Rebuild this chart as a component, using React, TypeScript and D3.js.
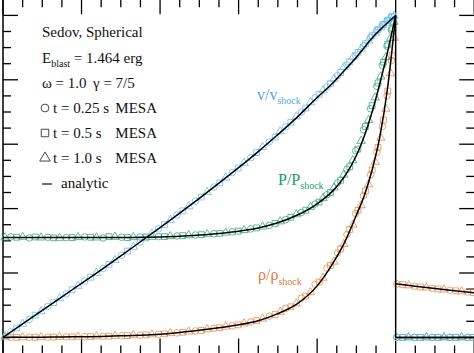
import React from "react";
import * as d3 from "d3";

// ---------- data ----------
// analytic Sedov profiles inside the shock (r / r_shock)
const anX = [0, 0.05, 0.1, 0.15, 0.2, 0.25, 0.3, 0.35, 0.4, 0.45, 0.5, 0.55, 0.6, 0.65, 0.7, 0.75, 0.8, 0.84, 0.87, 0.9, 0.92, 0.94, 0.96, 0.98, 1.0];
const anV = [0, 0.042, 0.084, 0.126, 0.168, 0.21, 0.253, 0.297, 0.341, 0.386, 0.432, 0.479, 0.527, 0.577, 0.63, 0.685, 0.745, 0.79, 0.83, 0.87, 0.9, 0.93, 0.955, 0.978, 1.0];
const anP = [0.31, 0.31, 0.31, 0.31, 0.31, 0.31, 0.31, 0.311, 0.312, 0.314, 0.318, 0.323, 0.33, 0.34, 0.356, 0.38, 0.415, 0.455, 0.5, 0.565, 0.625, 0.7, 0.79, 0.89, 1.0];
const anRho = [0, 0.0002, 0.0006, 0.0012, 0.002, 0.003, 0.005, 0.007, 0.01, 0.015, 0.022, 0.03, 0.039, 0.052, 0.074, 0.105, 0.16, 0.23, 0.295, 0.38, 0.44, 0.52, 0.625, 0.78, 1.0];
// analytic profile outside the shock
const postX = [1.0, 1.05, 1.1, 1.15, 1.2];
const postRho = [0.1667, 0.1587, 0.1515, 0.1449, 0.1389];
const postV = [0, 0, 0, 0, 0];
const postP = [0, 0, 0, 0, 0];

// MESA t = 0.25 s (circles)
const cX = [0.02, 0.067, 0.114, 0.161, 0.208, 0.255, 0.302, 0.349, 0.396, 0.443, 0.49, 0.537, 0.584, 0.631, 0.678, 0.72, 0.76, 0.795, 0.825, 0.852, 0.876, 0.898, 0.918, 0.936, 0.952, 0.966, 0.978, 0.989, 1.003, 1.048, 1.093, 1.138, 1.183];
const cV = [0.017, 0.056, 0.096, 0.135, 0.175, 0.214, 0.255, 0.296, 0.337, 0.38, 0.423, 0.467, 0.512, 0.558, 0.607, 0.654, 0.7, 0.744, 0.778, 0.813, 0.846, 0.875, 0.905, 0.932, 0.953, 0.97, 0.984, 0.996, 0, 0, 0, 0, 0];
const cP = [0.312, 0.309, 0.311, 0.31, 0.312, 0.309, 0.311, 0.312, 0.313, 0.315, 0.318, 0.322, 0.328, 0.337, 0.348, 0.366, 0.388, 0.414, 0.443, 0.48, 0.522, 0.58, 0.645, 0.71, 0.78, 0.845, 0.905, 0.955, 0, 0, 0, 0, 0];
const cRho = [0.0001, 0.0003, 0.0008, 0.0014, 0.0022, 0.0032, 0.005, 0.007, 0.01, 0.014, 0.02, 0.028, 0.036, 0.048, 0.066, 0.09, 0.122, 0.165, 0.215, 0.262, 0.32, 0.385, 0.44, 0.505, 0.575, 0.655, 0.75, 0.86, 0.166, 0.159, 0.1525, 0.1465, 0.141];

// MESA t = 0.5 s (squares)
const sX = [0.035, 0.082, 0.129, 0.176, 0.223, 0.27, 0.317, 0.364, 0.411, 0.458, 0.505, 0.552, 0.599, 0.646, 0.693, 0.733, 0.771, 0.805, 0.834, 0.86, 0.883, 0.904, 0.923, 0.94, 0.955, 0.969, 0.98, 0.991, 1.018, 1.063, 1.108, 1.153, 1.198];
const sV = [0.029, 0.069, 0.108, 0.148, 0.187, 0.227, 0.268, 0.309, 0.35, 0.393, 0.436, 0.48, 0.526, 0.574, 0.622, 0.668, 0.712, 0.755, 0.788, 0.823, 0.856, 0.885, 0.912, 0.937, 0.956, 0.972, 0.985, 0.996, 0, 0, 0, 0, 0];
const sP = [0.311, 0.312, 0.309, 0.31, 0.311, 0.313, 0.31, 0.312, 0.313, 0.316, 0.319, 0.323, 0.33, 0.34, 0.354, 0.373, 0.395, 0.42, 0.45, 0.488, 0.53, 0.585, 0.655, 0.72, 0.79, 0.855, 0.91, 0.96, 0, 0, 0, 0, 0];
const sRho = [0.0001, 0.0004, 0.001, 0.0016, 0.0025, 0.0037, 0.0056, 0.0078, 0.011, 0.016, 0.022, 0.03, 0.039, 0.052, 0.071, 0.095, 0.128, 0.172, 0.224, 0.275, 0.335, 0.395, 0.455, 0.52, 0.59, 0.675, 0.765, 0.875, 0.1637, 0.1568, 0.1504, 0.1446, 0.139];

// MESA t = 1.0 s (triangles)
const tX = [0.005, 0.05, 0.097, 0.144, 0.191, 0.238, 0.285, 0.332, 0.379, 0.426, 0.473, 0.52, 0.567, 0.614, 0.661, 0.706, 0.747, 0.783, 0.815, 0.843, 0.868, 0.891, 0.912, 0.931, 0.948, 0.962, 0.975, 0.987, 0.996, 1.033, 1.078, 1.123, 1.168];
const tV = [0.004, 0.042, 0.081, 0.121, 0.16, 0.2, 0.24, 0.281, 0.322, 0.364, 0.407, 0.451, 0.496, 0.542, 0.591, 0.64, 0.686, 0.73, 0.767, 0.803, 0.84, 0.87, 0.896, 0.922, 0.946, 0.963, 0.977, 0.99, 0.999, 0, 0, 0, 0];
const tP = [0.31, 0.312, 0.31, 0.309, 0.311, 0.31, 0.312, 0.311, 0.312, 0.314, 0.317, 0.32, 0.325, 0.333, 0.344, 0.36, 0.382, 0.405, 0.432, 0.465, 0.505, 0.55, 0.61, 0.675, 0.745, 0.81, 0.87, 0.93, 0.98, 0, 0, 0, 0];
const tRho = [0, 0.0002, 0.0006, 0.0012, 0.002, 0.003, 0.0045, 0.0065, 0.009, 0.013, 0.018, 0.025, 0.033, 0.043, 0.058, 0.079, 0.105, 0.14, 0.185, 0.235, 0.29, 0.35, 0.41, 0.475, 0.545, 0.62, 0.71, 0.82, 0.93, 0.1614, 0.1546, 0.1484, 0.1427];

const legendTitle = "Sedov, Spherical";
const legendOmega = "ω = 1.0";
const legendGamma = "γ = 7/5";
const legendRuns = ["t = 0.25 s", "t = 0.5 s", "t = 1.0 s"];

// ---------- styling ----------
const W = 474;
const H = 353;
const colV = "#6cbbe8";
const colP = "#33a982";
const colRho = "#ea8c4a";
const txtV = "#4faadf";
const txtP = "#119a70";
const txtRho = "#e07a36";
const serif = "'Liberation Serif', 'Times New Roman', serif";

export default function App() {
  const x = d3.scaleLinear().domain([0, 1.2]).range([3, 474.2]);
  const y = d3.scaleLinear().domain([-0.05, 1.05]).range([353.5, -0.7]);

  const inner = d3
    .line<[number, number]>()
    .x((d) => x(d[0]))
    .y((d) => y(d[1]))
    .curve(d3.curveMonotoneX);
  const straight = d3
    .line<[number, number]>()
    .x((d) => x(d[0]))
    .y((d) => y(d[1]));

  const zip = (a: number[], b: number[]) => a.map((v, i) => [v, b[i]] as [number, number]);

  const xTicks = d3.range(0, 1.2001, 0.05);
  const yTicks = d3.range(0, 1.0001, 0.05);

  const shapes = [
    { xs: cX, v: cV, p: cP, r: cRho, sym: d3.symbolCircle, size: 34 },
    { xs: sX, v: sV, p: sP, r: sRho, sym: d3.symbolSquare, size: 34 },
    { xs: tX, v: tV, p: tP, r: tRho, sym: d3.symbolTriangle, size: 30 },
  ];

  const markers: JSX.Element[] = [];
  shapes.forEach((s, si) => {
    const path = d3.symbol().type(s.sym).size(s.size)() as string;
    const groups: [number[], string][] = [
      [s.r, colRho],
      [s.p, colP],
      [s.v, colV],
    ];
    groups.forEach(([vals, col], gi) => {
      s.xs.forEach((xv, i) => {
        markers.push(
          <path
            key={`m${si}-${gi}-${i}`}
            d={path}
            transform={`translate(${x(xv)},${y(vals[i])})`}
            fill="none"
            stroke={col}
            strokeWidth={1}
            strokeOpacity={0.8}
          />
        );
      });
    });
  });

  const legendSyms = [d3.symbolCircle, d3.symbolSquare, d3.symbolTriangle];
  const legendSizes = [48, 56, 48];

  return (
    <svg
      width={W}
      height={H}
      style={{ position: "fixed", left: 0, top: 0, background: "#fff" }}
      fontFamily={serif}
    >
      <rect x={0} y={0} width={W} height={H} fill="#fff" />
      {/* ticks */}
      {xTicks.map((t, i) => {
        const major = i % 4 === 0;
        const len = major ? 15 : 8;
        return (
          <g key={`xt${i}`} stroke="#000" strokeWidth={1.3}>
            <line x1={x(t)} x2={x(t)} y1={y(1.05)} y2={y(1.05) + len} />
            <line x1={x(t)} x2={x(t)} y1={y(-0.05)} y2={y(-0.05) - len} />
          </g>
        );
      })}
      {yTicks.map((t, i) => {
        const major = i % 4 === 0;
        const len = major ? 15 : 8;
        return (
          <g key={`yt${i}`} stroke="#000" strokeWidth={1.3}>
            <line x1={x(0)} x2={x(0) + len} y1={y(t)} y2={y(t)} />
            <line x1={x(1.2)} x2={x(1.2) - len} y1={y(t)} y2={y(t)} />
          </g>
        );
      })}
      <line x1={x(0)} x2={x(0)} y1={y(1.05)} y2={y(-0.05)} stroke="#000" strokeWidth={1.5} />

      {/* MESA markers */}
      {markers}

      {/* analytic curves */}
      <g fill="none" stroke="#000" strokeWidth={1.5}>
        <path d={inner(zip(anX, anV)) as string} />
        <path d={inner(zip(anX, anP)) as string} />
        <path d={inner(zip(anX, anRho)) as string} />
        <path d={straight([[1, 1], [1, 0]]) as string} />
        <path d={straight(zip(postX, postV)) as string} />
        <path d={straight(zip(postX, postP)) as string} />
        <path d={straight(zip(postX, postRho)) as string} />
      </g>

      {/* legend text */}
      <g fill="#111" fontSize={15}>
        <text x={42} y={37}>{legendTitle}</text>
        <text x={42} y={63}>
          E<tspan fontSize={10} dy={4}>blast</tspan>
          <tspan dy={-4}> = 1.464 erg</tspan>
        </text>
        <text x={42} y={88}>{legendOmega}</text>
        <text x={93} y={88}>{legendGamma}</text>
        {legendRuns.map((s, i) => {
          const yy = 113 + i * 25;
          return (
            <g key={`lg${i}`}>
              <path
                d={d3.symbol().type(legendSyms[i]).size(legendSizes[i])() as string}
                transform={`translate(45,${yy - 5})`}
                fill="none"
                stroke="#333"
                strokeWidth={0.9}
              />
              <text x={53} y={yy}>{s}</text>
              <text x={157} y={yy} textAnchor="end">MESA</text>
            </g>
          );
        })}
        <line x1={42} x2={52} y1={184} y2={184} stroke="#222" strokeWidth={1.3} />
        <text x={61} y={188}>analytic</text>
      </g>

      {/* curve labels */}
      <text x={257} y={100} fontSize={16} fill={txtV}>
        v/v<tspan fontSize={10} dy={4}>shock</tspan>
      </text>
      <text x={278} y={185} fontSize={16} fill={txtP}>
        P/P<tspan fontSize={10} dy={4}>shock</tspan>
      </text>
      <text x={258} y={280} fontSize={16} fill={txtRho}>
        ρ/ρ<tspan fontSize={10} dy={5}>shock</tspan>
      </text>
    </svg>
  );
}
